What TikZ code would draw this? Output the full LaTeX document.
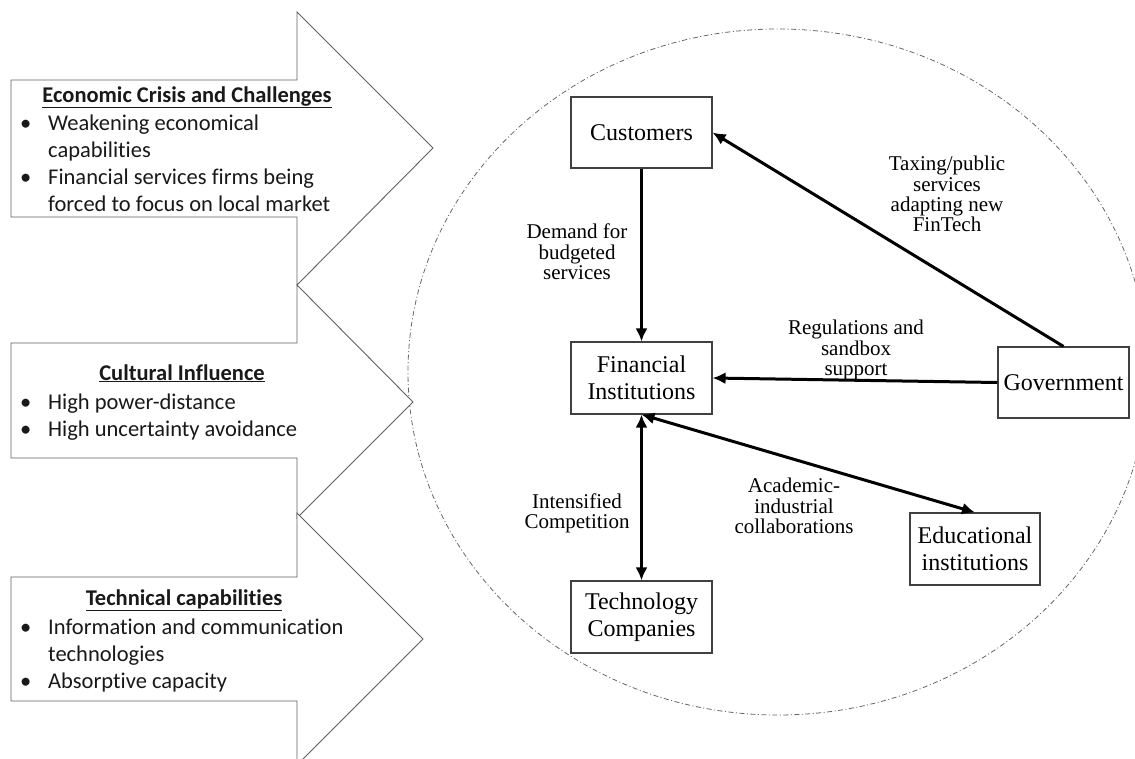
\documentclass[tikz,border=0pt]{standalone}
\usepackage{fontspec}
\setmainfont{Liberation Serif}
\newfontfamily\carl[Ligatures={NoCommon}]{Carlito}
\usetikzlibrary{arrows.meta}
\tikzset{
  bigarrow/.style={draw=black!62, line width=0.9pt, fill=white, line join=miter},
  box/.style={draw=black!75, line width=1.1pt, fill=white, inner sep=0pt, align=center,
              font=\fontsize{24}{27.5}\selectfont},
  lbl/.style={font=\fontsize{21}{20.3}\selectfont, align=center, inner sep=0pt},
  conn/.style={line width=3pt, -{Latex[length=13pt,width=12pt]}},
  dconn/.style={line width=3pt, {Latex[length=13pt,width=12pt]}-{Latex[length=13pt,width=12pt]}},
  lt/.style={font=\carl\fontsize{22.5}{27}\selectfont, anchor=base west, inner sep=0pt, text=black!90},
  ttl/.style={font=\carl\bfseries\fontsize{22.5}{27}\selectfont, anchor=base, inner sep=0pt, text=black!90},
  circ/.style={draw=black!60, line width=0.8pt, dash pattern=on 5pt off 2.5pt on 1pt off 2.5pt}
}
\begin{document}
\begin{tikzpicture}[x=1pt,y=-1pt]
\useasboundingbox (0,0) rectangle (1135,758);
% dashed-dotted ellipse
\begin{scope}
\clip (0,0) rectangle (1135,758);
\draw[circ] (778,372) ellipse [x radius=370, y radius=343];
\end{scope}
% big arrows
\draw[bigarrow] (11,80) -- (297,80) -- (297,12) -- (433,148) -- (297,285) -- (297,217) -- (11,217) -- cycle;
\draw[bigarrow] (11,343) -- (297,343) -- (297,285) -- (413,402) -- (297,518) -- (297,458) -- (11,458) -- cycle;
\begin{scope}
\clip (0,0) rectangle (1135,758);
\draw[bigarrow] (11,577) -- (297,577) -- (297,513) -- (423,639) -- (297,765) -- (297,701) -- (11,701) -- cycle;
\end{scope}
% arrow 1 text
\node[ttl] (t1) at (187,102) {\underline{Economic Crisis and Challenges}};
\node[lt] (b1a) at (20,130) {•};
\node[lt] (l1a) at (48,130) {Weakening economical};
\node[lt] (l1b) at (48,157) {capabilities};
\node[lt] (b1b) at (20,184) {•};
\node[lt] (l1c) at (48,184) {Financial services firms being};
\node[lt] (l1d) at (48,211) {forced to focus on local market};
% arrow 2 text
\node[ttl] (t2) at (182,380) {\underline{Cultural Influence}};
\node[lt] (b2a) at (20,409) {•};
\node[lt] (l2a) at (48,409) {High power-distance};
\node[lt] (b2b) at (20,436) {•};
\node[lt] (l2b) at (48,436) {High uncertainty avoidance};
% arrow 3 text
\node[ttl] (t3) at (184,605) {\underline{Technical capabilities}};
\node[lt] (b3a) at (20,634) {•};
\node[lt] (l3a) at (48,634) {Information and communication};
\node[lt] (l3b) at (48,661) {technologies};
\node[lt] (b3b) at (20,688) {•};
\node[lt] (l3c) at (48,688) {Absorptive capacity};
% boxes
\node[box, minimum width=141pt, minimum height=71pt] (cust) at (641.5,132.5) {Customers};
\node[box, minimum width=141pt, minimum height=72pt] (fi) at (641.5,378) {Financial\\Institutions};
\node[box, minimum width=131pt, minimum height=71pt] (gov) at (1063.5,382.5) {Government};
\node[box, minimum width=130pt, minimum height=72pt] (edu) at (975,549) {Educational\\institutions};
\node[box, minimum width=141pt, minimum height=72pt] (tech) at (641.5,617) {Technology\\Companies};
% connectors
\draw[conn] (cust.south) -- (fi.north);
\draw[conn] (gov.north) -- (cust.east);
\draw[conn] (gov.west) -- (fi.east);
\draw[dconn] (fi.south) -- (tech.north);
\draw[dconn] (fi.south) -- (edu.north);
% labels
\node[lbl] (ldem) at (577,252) {Demand for\\budgeted\\services};
\node[lbl] (ltax) at (947,194) {Taxing/public\\services\\adapting new\\FinTech};
\node[lbl] (lreg) at (856,350) {Regulations and\\sandbox\\support};
\node[lbl] (lint) at (577,513) {Intensified\\Competition};
\node[lbl] (laca) at (794,506) {Academic-\\industrial\\collaborations};
\end{tikzpicture}
\end{document}
